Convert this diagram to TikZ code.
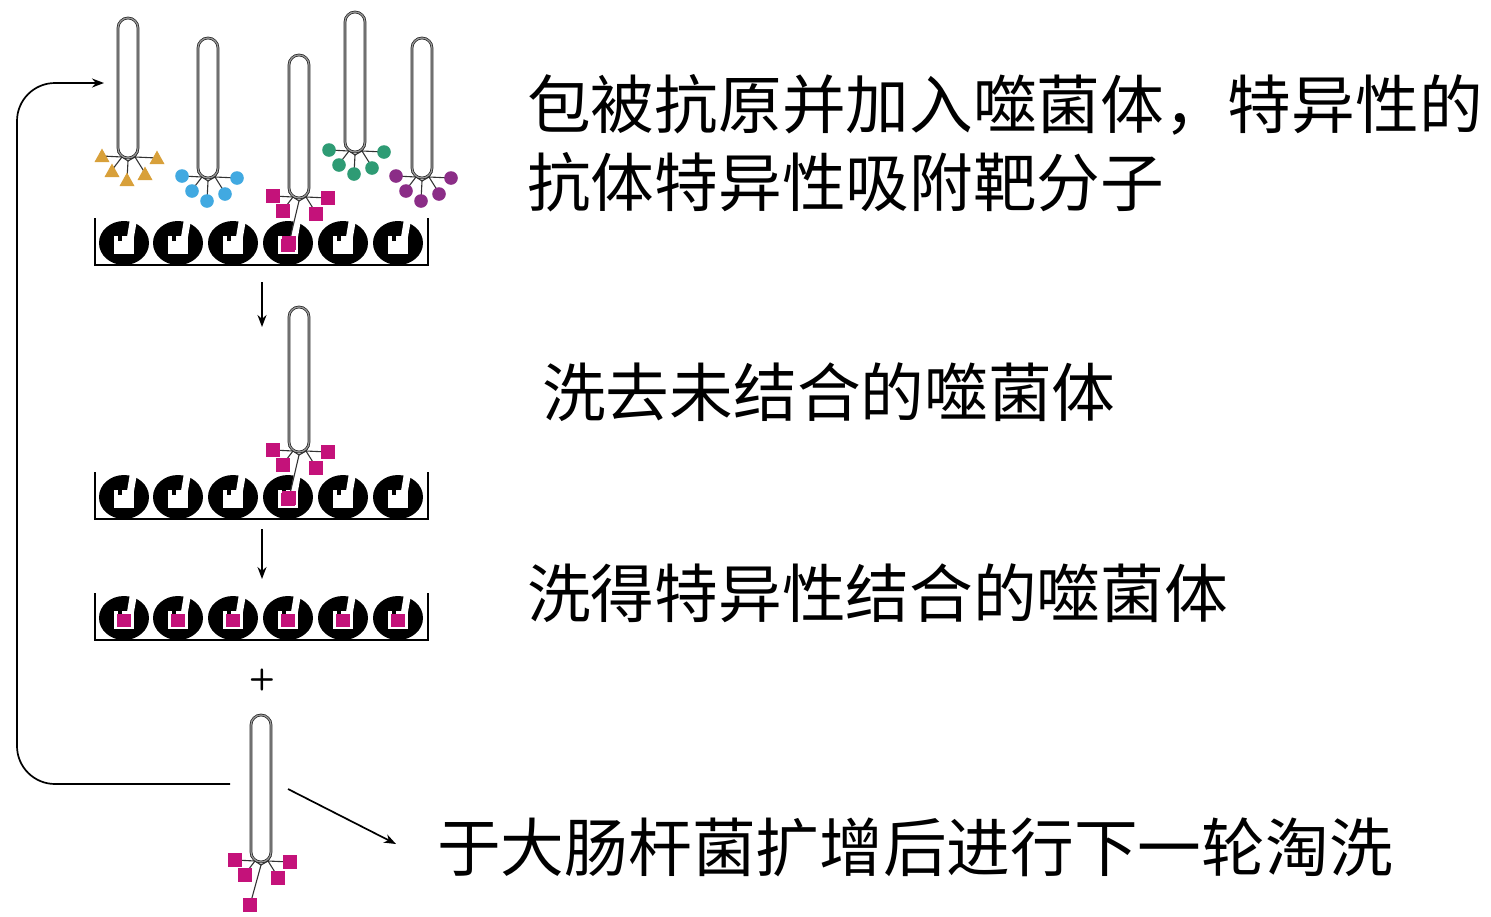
\documentclass[tikz,border=0pt]{standalone}
\usepackage{fontspec}
\newfontfamily\cjk{Noto Sans CJK SC}
\usetikzlibrary{arrows.meta}
\definecolor{ligOrange}{HTML}{D8A03A}
\definecolor{ligBlue}{HTML}{41A9E1}
\definecolor{ligMagenta}{HTML}{C4127A}
\definecolor{ligGreen}{HTML}{2E9B74}
\definecolor{ligPurple}{HTML}{8B2D87}
\tikzset{
  label text/.style={anchor=base west, inner sep=0pt, font=\cjk\fontsize{63.7}{70}\selectfont},
  connector/.style={line width=1.7pt, -{Stealth[length=12pt,width=9pt]}},
  tray/.style={line width=1.6pt},
  capsule/.style={draw=black!85, double=black!40, double distance=1.2pt, line width=0.75pt, fill=white, rounded corners=10pt},
  branch/.style={line width=1.1pt, draw=black!80, line cap=round},
}
% ligand glyphs, centred on (x,y)
\newcommand\ligtri[3]{\fill[#3] ({#1},{#2-7.5}) -- ({#1+7.5},{#2+6}) -- ({#1-7.5},{#2+6}) -- cycle;}
\newcommand\ligcirc[3]{\fill[#3] (#1,#2) circle[radius=6.8pt];}
\newcommand\ligsq[3]{\fill[#3] ({#1-7},{#2-7}) rectangle ({#1+7},{#2+7});}
% phage: #1 centre x, #2 top, #3 bottom, #4 glyph, #5 colour, #6 x offset of middle ligand, #7 y offset of middle ligand
\newcommand\phage[7]{%
  \draw[branch] ({#1-10},{#3-6}) -- ({#1-6},{#3-1}) -- ({#1},{#3+3}) -- ({#1+7},{#3-1}) -- ({#1+10},{#3-6});
  \draw[branch] ({#1-6},{#3-1}) -- ({#1-26},{#3-2});
  \draw[branch] ({#1-6},{#3-1}) -- ({#1-16},{#3+12});
  \draw[branch] ({#1},{#3+3}) -- ({#1+#6},{#3+#7});
  \draw[branch] ({#1+7},{#3-1}) -- ({#1+17},{#3+15});
  \draw[branch] ({#1+7},{#3-1}) -- ({#1+29},{#3});
  \draw[capsule] ({#1-10},{#2}) rectangle ({#1+10},{#3});
  #4{#1-26}{#3-2}{#5}
  #4{#1-16}{#3+13}{#5}
  #4{#1+#6}{#3+#7}{#5}
  #4{#1+17}{#3+16}{#5}
  #4{#1+29}{#3}{#5}
}
% well: #1 centre x, #2 centre y
\newcommand\well[2]{%
  \fill (#1,#2) ellipse[x radius=25pt, y radius=22pt];
  \fill[white] ({#1-10},{#2-7}) rectangle ({#1+10},{#2+11});
  \fill[white] ({#1+3},{#2-6}) -- ({#1+10},{#2-6}) -- ({#1+13},{#2-23}) -- ({#1+6},{#2-24}) -- cycle;
  \fill ({#1-6},{#2-8}) rectangle ({#1-2},{#2-2});
}
\newcommand\boundtarget[2]{\fill[ligMagenta] ({#1-7},{#2-4}) rectangle ({#1+7},{#2+9});}
\newcommand\trayrow[1]{%
  \draw[tray] (95,{#1-47}) -- (95,{#1}) -- (428,{#1}) -- (428,{#1-47});
  \foreach \wx in {124,178,233,288,343,398} {\well{\wx}{#1-22}}
}
\begin{document}
\begin{tikzpicture}[x=1pt,y=-1pt]
\useasboundingbox (0,0) rectangle (1491,916);

% first panel: mixed phage library over the coated wells
\trayrow{265}
\boundtarget{288}{243}
\phage{128}{18}{158}{\ligtri}{ligOrange}{-1}{22}
\phage{208}{38}{178}{\ligcirc}{ligBlue}{-1}{23}
\phage{299}{55}{198}{\ligsq}{ligMagenta}{-10}{45}
\phage{355}{12}{152}{\ligcirc}{ligGreen}{-1}{22}
\phage{422}{38}{178}{\ligcirc}{ligPurple}{-1}{23}

% second panel: only the binder stays
\trayrow{519}
\boundtarget{288}{497}
\phage{299}{307}{452}{\ligsq}{ligMagenta}{-10}{46}

% third panel: eluted wells
\trayrow{640}
\foreach \wx in {124,178,233,288,343,398} {\boundtarget{\wx}{618}}

% amplified phage
\phage{261}{715}{862}{\ligsq}{ligMagenta}{-11}{43}

\node[inner sep=0pt, font=\sffamily\bfseries\fontsize{30}{30}\selectfont] (plus) at (262,680) {+};

% connectors
\coordinate (d1s) at (262,282);
\coordinate (d1e) at (262,327);
\coordinate (d2s) at (262,529);
\coordinate (d2e) at (262,579);
\draw[connector] (d1s) -- (d1e);
\draw[connector] (d2s) -- (d2e);

\coordinate (loopS) at (230,784);
\coordinate (loopA) at (17,784);
\coordinate (loopB) at (17,83);
\coordinate (loopE) at (104,83);
\draw[connector, rounded corners=38pt] (loopS) -- (loopA) -- (loopB) -- (loopE);

\coordinate (outS) at (288,789);
\coordinate (outE) at (396,844);
\draw[connector] (outS) -- (outE);

% captions
\node[label text] (t1) at (527,128) {包被抗原并加入噬菌体，特异性的};
\node[label text] (t2) at (527,206) {抗体特异性吸附靶分子};
\node[label text] (t3) at (542,416) {洗去未结合的噬菌体};
\node[label text] (t4) at (527,617) {洗得特异性结合的噬菌体};
\node[label text] (t5) at (437,871) {于大肠杆菌扩增后进行下一轮淘洗};
\end{tikzpicture}
\end{document}
